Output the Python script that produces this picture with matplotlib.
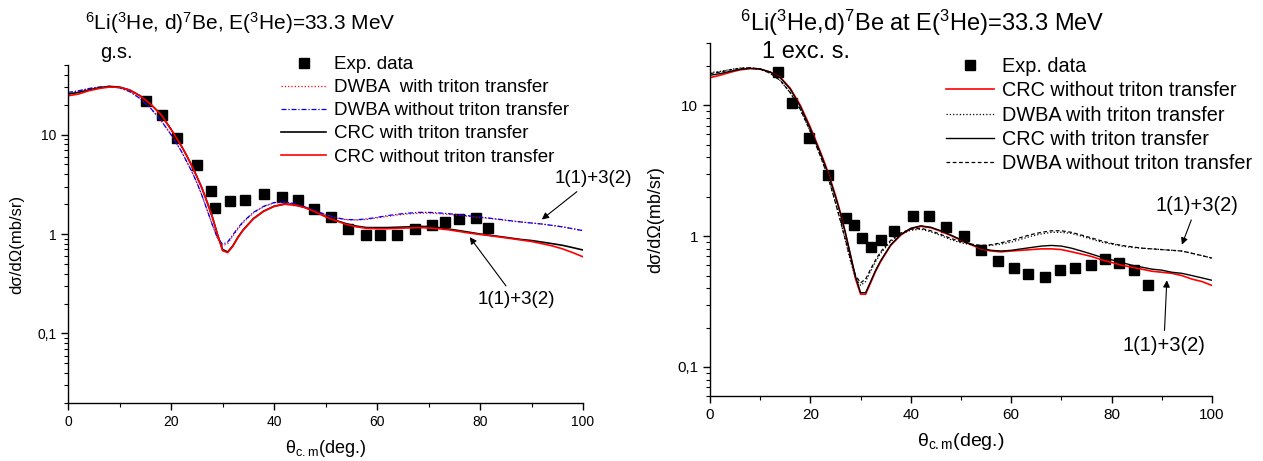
import matplotlib
matplotlib.use('Agg')
import matplotlib.pyplot as plt
from matplotlib.ticker import LogLocator, FuncFormatter, MultipleLocator, NullFormatter

plt.rcParams['font.family'] = ['Liberation Sans', 'DejaVu Sans']
plt.rcParams['mathtext.fontset'] = 'custom'
plt.rcParams['mathtext.rm'] = 'Liberation Sans'
plt.rcParams['mathtext.it'] = 'Liberation Sans'

# angle grid of the calculated curves (deg.)
theta_calc = [0, 2, 4, 6, 8, 10, 12, 14, 16, 18, 20, 22,
              23, 24, 25, 26, 27, 28, 29, 30, 31, 32, 33, 34,
              36, 38, 40, 42, 44, 46, 48, 50, 52, 54, 56, 58, 60, 62, 64, 66,
              68, 70, 72, 74, 76, 78, 80, 82, 84, 86, 88, 90, 92, 94, 96, 98, 100]

# ---- ground state ----
theta_gs = [15.1, 18.2, 21.2, 25.1, 27.8, 28.6, 31.4, 34.3, 38.0, 41.5, 44.7, 47.8,
            51.0, 54.4, 57.9, 60.6, 63.8, 67.4, 70.6, 73.2, 76.0, 79.2, 81.6]
sigma_gs = [21.9, 15.7, 9.3, 4.9, 2.7, 1.82, 2.15, 2.21, 2.54, 2.33, 2.2, 1.78,
            1.48, 1.12, 0.98, 0.98, 0.98, 1.12, 1.22, 1.32, 1.42, 1.44, 1.16]

gs_dwba_with = [26, 27.2, 28.8, 29.8, 30.3, 29.4, 27, 23, 18.5, 14, 10, 6.8,
                5.4, 4.3, 3.3, 2.45, 1.75, 1.25, 0.9, 0.76, 0.8, 0.95, 1.12, 1.3,
                1.63, 1.88, 2.05, 2.08, 2.0, 1.87, 1.71, 1.56, 1.45, 1.39, 1.38, 1.4, 1.45, 1.5, 1.55, 1.59,
                1.61, 1.62, 1.6, 1.57, 1.54, 1.5, 1.46, 1.43, 1.39, 1.35, 1.32, 1.29, 1.26, 1.22, 1.18, 1.13, 1.08]
gs_dwba_without = [26.5, 27.5, 29, 30, 30.5, 29.5, 27, 23, 18.5, 14, 10, 6.8,
                   5.4, 4.3, 3.3, 2.45, 1.75, 1.25, 0.92, 0.79, 0.83, 0.98, 1.15, 1.33,
                   1.65, 1.9, 2.07, 2.1, 2.02, 1.88, 1.72, 1.57, 1.46, 1.4, 1.39, 1.42, 1.47, 1.53, 1.58, 1.62,
                   1.65, 1.65, 1.63, 1.6, 1.56, 1.52, 1.48, 1.44, 1.4, 1.36, 1.32, 1.29, 1.26, 1.22, 1.18, 1.13, 1.08]
gs_crc_with = [25.5, 26.5, 28, 29.5, 30.5, 30, 28, 24.5, 20.3, 16, 11.3, 7.7,
               6.2, 4.9, 3.8, 2.9, 2.1, 1.5, 1.0, 0.7, 0.66, 0.76, 0.93, 1.1,
               1.43, 1.7, 1.9, 2.0, 1.97, 1.85, 1.68, 1.5, 1.37, 1.27, 1.2, 1.16, 1.16, 1.16, 1.17, 1.18,
               1.19, 1.19, 1.16, 1.12, 1.08, 1.04, 1.0, 0.97, 0.94, 0.91, 0.88, 0.86, 0.83, 0.8, 0.77, 0.73, 0.69]
gs_crc_without = [24.5, 25.5, 27.5, 29, 30, 29.8, 28, 24.5, 20.3, 16, 11.3, 7.7,
                  6.2, 4.9, 3.8, 2.9, 2.1, 1.5, 1.0, 0.68, 0.65, 0.75, 0.92, 1.09,
                  1.42, 1.69, 1.89, 1.99, 1.96, 1.84, 1.67, 1.49, 1.36, 1.25, 1.18, 1.14, 1.13, 1.13, 1.14, 1.15,
                  1.16, 1.15, 1.13, 1.1, 1.06, 1.02, 0.99, 0.96, 0.93, 0.9, 0.87, 0.84, 0.8, 0.76, 0.71, 0.65, 0.59]

# ---- 1st excited state ----
theta_1ex = [13.5, 16.4, 19.8, 23.5, 27.1, 28.7, 30.2, 32.0, 34.1, 36.6, 40.4, 43.6, 47.0,
             50.5, 53.9, 57.4, 60.5, 63.3, 66.7, 69.7, 72.7, 75.9, 78.7, 81.4, 84.4, 87.3]
sigma_1ex = [17.9, 10.5, 5.6, 2.93, 1.38, 1.21, 0.97, 0.83, 0.94, 1.10, 1.43, 1.42, 1.17,
             1.01, 0.79, 0.65, 0.57, 0.51, 0.49, 0.55, 0.57, 0.60, 0.67, 0.62, 0.55, 0.42]

ex_crc_without = [16.3, 17, 17.9, 18.7, 19.1, 18.9, 18, 16.4, 13.5, 10, 6.8, 4.4,
                  3.5, 2.7, 2.05, 1.5, 1.05, 0.7, 0.47, 0.36, 0.36, 0.44, 0.54, 0.64,
                  0.85, 1.02, 1.14, 1.19, 1.16, 1.09, 1.01, 0.93, 0.86, 0.8, 0.77, 0.76, 0.77, 0.78, 0.79, 0.8,
                  0.8, 0.79, 0.76, 0.73, 0.7, 0.66, 0.63, 0.6, 0.58, 0.56, 0.54, 0.53, 0.52, 0.5, 0.47, 0.45, 0.42]
ex_dwba_with = [17.8, 18.2, 18.8, 19.3, 19.4, 19, 17.6, 15.5, 12.5, 9.3, 6.3, 4.1,
                3.2, 2.45, 1.8, 1.3, 0.92, 0.64, 0.48, 0.42, 0.45, 0.54, 0.64, 0.74,
                0.91, 1.04, 1.11, 1.13, 1.08, 1.01, 0.94, 0.89, 0.86, 0.84, 0.85, 0.87, 0.9, 0.95, 1.0, 1.04,
                1.07, 1.07, 1.05, 1.0, 0.95, 0.9, 0.87, 0.84, 0.82, 0.81, 0.8, 0.79, 0.78, 0.77, 0.74, 0.71, 0.68]
ex_crc_with = [17, 17.5, 18.2, 18.9, 19.2, 19, 18, 16.3, 13.3, 9.8, 6.6, 4.3,
               3.4, 2.65, 2.0, 1.48, 1.05, 0.72, 0.49, 0.37, 0.37, 0.45, 0.55, 0.65,
               0.86, 1.03, 1.15, 1.2, 1.17, 1.1, 1.02, 0.94, 0.87, 0.81, 0.78, 0.77, 0.78, 0.8, 0.82, 0.84,
               0.85, 0.84, 0.81, 0.77, 0.73, 0.69, 0.66, 0.63, 0.6, 0.58, 0.56, 0.55, 0.53, 0.52, 0.5, 0.48, 0.46]
ex_dwba_without = [17.5, 18, 18.7, 19.2, 19.4, 19, 17.6, 15.5, 12.5, 9.3, 6.3, 4.1,
                   3.2, 2.45, 1.8, 1.3, 0.93, 0.66, 0.5, 0.44, 0.47, 0.56, 0.66, 0.76,
                   0.93, 1.06, 1.13, 1.15, 1.1, 1.03, 0.96, 0.91, 0.87, 0.85, 0.86, 0.89, 0.93, 0.98, 1.03, 1.07,
                   1.1, 1.1, 1.07, 1.02, 0.97, 0.92, 0.88, 0.85, 0.83, 0.81, 0.8, 0.79, 0.78, 0.77, 0.74, 0.71, 0.68]


def comma_fmt(v, pos):
    if v >= 1:
        return '%d' % round(v)
    return ('%g' % v).replace('.', ',')


def style_axes(ax, ylim, tick_fs, label_fs):
    ax.set_yscale('log')
    ax.set_xlim(0, 100)
    ax.set_ylim(*ylim)
    ax.spines['top'].set_visible(False)
    ax.spines['right'].set_visible(False)
    for s in ('left', 'bottom'):
        ax.spines[s].set_linewidth(1.0)
    ax.xaxis.set_major_locator(MultipleLocator(20))
    ax.xaxis.set_minor_locator(MultipleLocator(10))
    ax.yaxis.set_major_locator(LogLocator(base=10))
    ax.yaxis.set_minor_locator(LogLocator(base=10, subs=range(2, 10)))
    ax.yaxis.set_major_formatter(FuncFormatter(comma_fmt))
    ax.yaxis.set_minor_formatter(NullFormatter())
    ax.tick_params(which='major', direction='out', length=5, width=1.0, labelsize=tick_fs)
    ax.tick_params(which='minor', direction='out', length=3, width=0.8)
    ax.set_xlabel(r'θ$_{\rm c.m}$(deg.)', fontsize=label_fs)
    ax.set_ylabel('dσ/dΩ(mb/sr)', fontsize=label_fs - 1)


fig = plt.figure(figsize=(12.63, 4.61), dpi=100)
W, H = 1263.0, 461.0

# left panel: ground state
ax1 = fig.add_axes([68 / W, 1 - 403 / H, 515 / W, 338 / H])
ax1.plot(theta_gs, sigma_gs, 's', color='black', ms=6.5, label='Exp. data')
ax1.plot(theta_calc, gs_dwba_with, ':', color='red', lw=0.9, label='DWBA  with triton transfer')
ax1.plot(theta_calc, gs_dwba_without, color='blue', lw=0.9, dashes=(4, 1.5, 1, 1.5),
         label='DWBA without triton transfer')
ax1.plot(theta_calc, gs_crc_with, '-', color='black', lw=1.2, label='CRC with triton transfer')
ax1.plot(theta_calc, gs_crc_without, '-', color='red', lw=1.2, label='CRC without triton transfer')
style_axes(ax1, (0.02, 50), 10, 13)
ax1.yaxis.set_label_coords(-0.085, 0.47)
ax1.xaxis.set_label_coords(0.5, -0.105)
ax1.legend(loc='upper left', bbox_to_anchor=(281 / W, 1 - 56 / H), bbox_transform=fig.transFigure,
           frameon=False, fontsize=13.5, handlelength=2.4, handletextpad=0.4, labelspacing=0.32,
           borderpad=0, borderaxespad=0, numpoints=1)
arrow = dict(arrowstyle='-|>', color='black', lw=0.8, mutation_scale=10, shrinkA=2, shrinkB=0)
ax1.annotate('1(1)+3(2)', xy=(92, 1.4), xytext=(102, 3.6), ha='center', va='center',
             fontsize=13.5, arrowprops=arrow, annotation_clip=False)
ax1.annotate('1(1)+3(2)', xy=(78, 0.93), xytext=(87, 0.22), ha='center', va='center',
             fontsize=13.5, arrowprops=arrow, annotation_clip=False)

# right panel: 1st excited state
ax2 = fig.add_axes([710 / W, 1 - 396 / H, 502 / W, 353 / H])
ax2.plot(theta_1ex, sigma_1ex, 's', color='black', ms=6.5, label='Exp. data')
ax2.plot(theta_calc, ex_crc_without, '-', color='red', lw=1.2, label='CRC without triton transfer')
ax2.plot(theta_calc, ex_dwba_with, ':', color='black', lw=0.9, label='DWBA with triton transfer')
ax2.plot(theta_calc, ex_crc_with, '-', color='black', lw=1.0, label='CRC with triton transfer')
ax2.plot(theta_calc, ex_dwba_without, color='black', lw=0.9, dashes=(3, 2),
         label='DWBA without triton transfer')
style_axes(ax2, (0.06, 30), 11, 14)
ax2.yaxis.set_label_coords(-0.092, 0.5)
ax2.xaxis.set_label_coords(0.5, -0.10)
ax2.legend(loc='upper left', bbox_to_anchor=(946 / W, 1 - 57 / H), bbox_transform=fig.transFigure,
           frameon=False, fontsize=14.3, handlelength=2.4, handletextpad=0.4, labelspacing=0.27,
           borderpad=0, borderaxespad=0, numpoints=1)
ax2.annotate('1(1)+3(2)', xy=(94, 0.86), xytext=(97, 1.73), ha='center', va='center',
             fontsize=14.5, arrowprops=arrow, annotation_clip=False)
ax2.annotate('1(1)+3(2)', xy=(91, 0.46), xytext=(90.4, 0.146), ha='center', va='center',
             fontsize=14.5, arrowprops=arrow, annotation_clip=False)

# titles
fig.text(85 / W, 1 - 23 / H, r'$^{6}$Li($^{3}$He, d)$^{7}$Be, E($^{3}$He)=33.3 MeV',
         fontsize=15, ha='left', va='center')
fig.text(100 / W, 1 - 52 / H, 'g.s.', fontsize=14.5, ha='left', va='center')
fig.text(740 / W, 1 - 23 / H, r'$^{6}$Li($^{3}$He,d)$^{7}$Be at E($^{3}$He)=33.3 MeV',
         fontsize=17, ha='left', va='center')
fig.text(762 / W, 1 - 52 / H, '1 exc. s.', fontsize=17, ha='left', va='center')

fig.savefig('out.png', dpi=100)
